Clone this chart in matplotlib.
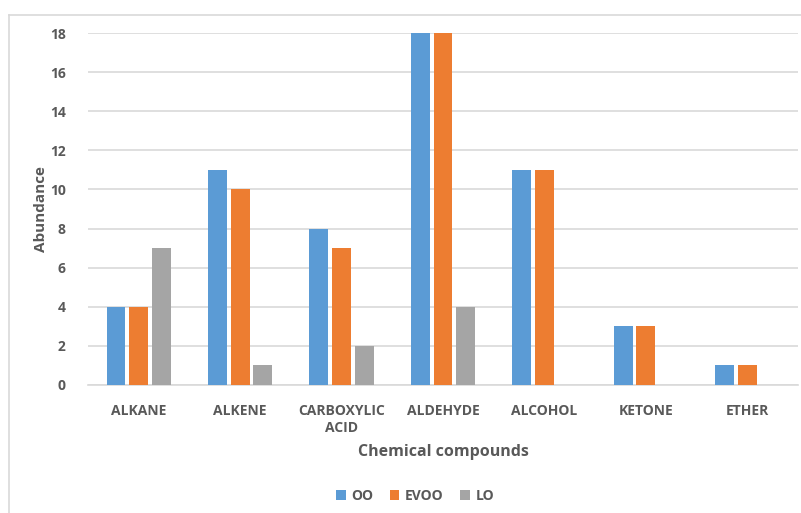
import matplotlib
matplotlib.use("Agg")
import matplotlib.pyplot as plt
from matplotlib.lines import Line2D
from matplotlib.patches import Patch
import numpy as np

categories = ["ALKANE", "ALKENE", "CARBOXYLIC\nACID", "ALDEHYDE", "ALCOHOL", "KETONE", "ETHER"]
series_names = ["OO", "EVOO", "LO"]
oo = [4, 11, 8, 18, 11, 3, 1]
evoo = [4, 10, 7, 18, 11, 3, 1]
lo = [7, 1, 2, 4, 0, 0, 0]
colors = ["#5B9BD5", "#ED7D31", "#A5A5A5"]
yticks = [0, 2, 4, 6, 8, 10, 12, 14, 16, 18]

plt.rcParams["font.family"] = ["Open Sans", "DejaVu Sans"]
text_color = "#595959"
grid_color = "#D9D9D9"

W, H = 801, 513
fig = plt.figure(figsize=(W / 100, H / 100), dpi=100)
ax = fig.add_axes([88 / W, (H - 385) / H, (798 - 88) / W, (385 - 33) / H])

x = np.arange(len(categories))
step = 0.224
bw = 0.185
for i, (name, vals) in enumerate(zip(series_names, [oo, evoo, lo])):
    ax.bar(x + (i - 1) * step, vals, width=bw, color=colors[i],
           linewidth=0, label=name, zorder=3)

ax.set_xlim(-0.5, len(categories) - 0.5)
ax.set_ylim(0, 18)
ax.set_yticks(yticks)
ax.set_yticklabels([str(t) for t in yticks])
ax.set_xticks(x)
ax.set_xticklabels(categories, linespacing=1.2)
ax.yaxis.grid(True, color=grid_color, linewidth=1.2, zorder=0)
ax.set_axisbelow(True)
for s in ["top", "right", "left"]:
    ax.spines[s].set_visible(False)
ax.spines["bottom"].set_color(grid_color)
ax.spines["bottom"].set_linewidth(1.2)
ax.tick_params(axis="both", length=0, colors=text_color, labelsize=10)
ax.tick_params(axis="y", pad=16)
ax.tick_params(axis="x", pad=14)
for lbl in ax.get_xticklabels() + ax.get_yticklabels():
    lbl.set_fontweight("bold")
    lbl.set_color(text_color)

ax.set_ylabel("Abundance", fontsize=11, fontweight="bold", color=text_color)
ax.yaxis.set_label_coords((48 - 88) / (798 - 88), 0.5)
fig.text(443 / W, 1 - 452 / H, "Chemical compounds", ha="center", va="center",
         fontsize=11.5, fontweight="bold", color=text_color)

handles = [Patch(facecolor=c, edgecolor="none") for c in colors]
fig.legend(handles, series_names, loc="center", bbox_to_anchor=(415 / W, 1 - 496 / H),
           ncol=3, frameon=False, handlelength=0.7, handleheight=0.7, handletextpad=0.4,
           columnspacing=1.2, prop={"weight": "bold", "size": 10}, labelcolor=text_color)

# outer chart border
fig.add_artist(Line2D([9 / W, 1], [1 - 15 / H, 1 - 15 / H], color=grid_color, linewidth=1.2))
fig.add_artist(Line2D([9 / W, 9 / W], [0, 1 - 15 / H], color=grid_color, linewidth=1.2))

fig.savefig("out.png", dpi=100, facecolor="white")
